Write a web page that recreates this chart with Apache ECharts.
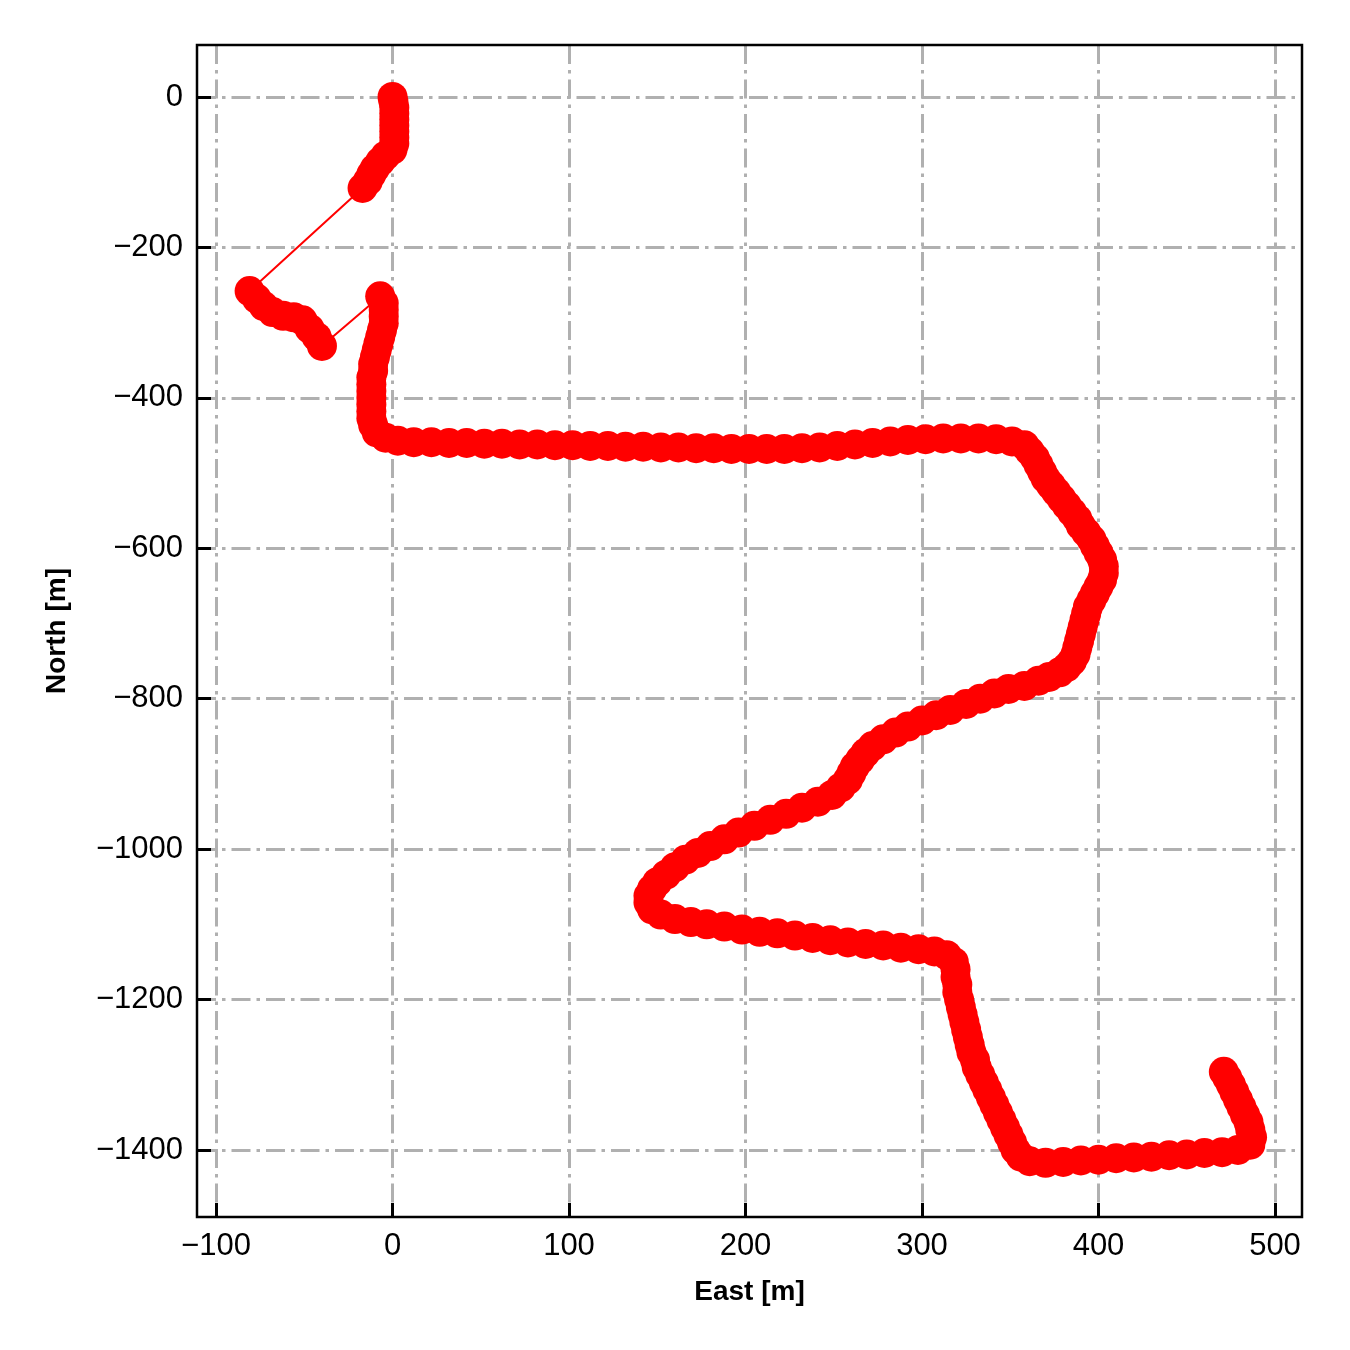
<!DOCTYPE html>
<html><head><meta charset="utf-8">
<script src="https://cdn.jsdelivr.net/npm/echarts@6/dist/echarts.min.js"></script>
<style>html,body{margin:0;padding:0;background:#fff}#c{width:1350px;height:1350px}</style>
</head><body><div id="c"></div>
<script>
// Trajectory (East / North in metres)
const east = [
  0, 0.5, 1, 1, 1, 1, 1, 1, 1, 0, -4, -7, -10, -12, -14, -17,
  -81, -77, -73, -68, -62, -56, -51, -47, -43, -40,
  -7, -5, -5, -5, -5, -6, -7, -8, -9, -10, -11, -11, -12, -12, -12, -12, -12, -12, -12, -11, -9, -4, 3, 12,
  22, 32, 42, 52, 62, 72, 82, 92, 102, 112, 122, 132, 142, 152, 162, 172, 182, 192, 202, 212, 222, 232, 242, 252, 262, 272, 282, 292, 302, 312, 322, 332, 342, 351,
  358, 361, 364, 366, 368, 370, 373, 376, 379, 382, 385, 388, 390, 393, 396, 398, 400, 402, 403, 403, 402, 400, 398, 396, 394, 393, 392, 391, 390, 389, 388, 387, 385, 382,
  378, 372, 366, 358, 349, 341, 333, 325, 316, 308, 300, 292, 285, 278, 272, 268, 265, 262, 260, 258, 254, 249, 241, 232, 223, 214, 205, 196, 188, 180, 173, 166, 160, 155, 150, 147, 145, 145, 147,
  152, 160, 169, 178, 188, 198, 208, 218, 228, 238, 248, 258, 268, 278, 288, 298, 307, 314, 318,
  319, 319, 320, 320, 321, 322, 323, 324, 325, 326, 327, 328, 330, 331, 333, 335, 337, 339, 341, 343, 345, 347, 349, 351, 353, 356, 361,
  370, 380, 390, 400, 410, 420, 430, 440, 450, 460, 470, 479, 486,
  487, 486, 485, 483, 481, 479, 477, 475, 473, 471
];
const north = [
  0, -6, -14, -22, -30, -38, -46, -54, -62, -70, -78, -86, -95, -103, -112, -121,
  -258, -268, -278, -286, -291, -293, -297, -308, -319, -331,
  -265, -274, -283, -292, -301, -310, -319, -328, -337, -346, -355, -364, -373, -382, -391, -400, -409, -418, -427, -436, -446, -453, -457, -459,
  -459, -460, -460, -461, -461, -462, -462, -463, -463, -464, -464, -465, -465, -466, -466, -467, -467, -468, -468, -468, -468, -467, -466, -464, -462, -460, -458, -456, -455, -454, -454, -454, -455, -458,
  -463, -471, -480, -489, -498, -507, -516, -525, -534, -543, -552, -561, -570, -579, -588, -597, -606, -615, -624, -633, -642, -651, -660, -669, -678, -687, -696, -705, -714, -723, -732, -741, -750, -758,
  -765, -771, -776, -783, -787, -793, -800, -807, -815, -822, -829, -837, -845, -854, -863, -872, -881, -890, -899, -908, -918, -928, -937, -945, -953, -961, -969, -978, -987, -996, -1005, -1014, -1024, -1034, -1044, -1053, -1062, -1071, -1080,
  -1087, -1093, -1097, -1100, -1103, -1107, -1110, -1112, -1115, -1118, -1121, -1124, -1126, -1128, -1131, -1133, -1136, -1141, -1150,
  -1160, -1170, -1180, -1190, -1200, -1210, -1220, -1230, -1240, -1250, -1260, -1270, -1280, -1290, -1300, -1310, -1320, -1330, -1340, -1350, -1360, -1370, -1380, -1390, -1400, -1409, -1415,
  -1417, -1416, -1414, -1413, -1411, -1410, -1409, -1407, -1406, -1404, -1403, -1400, -1393,
  -1383, -1373, -1363, -1353, -1343, -1333, -1323, -1313, -1304, -1296
];
const xTicks = [-100, 0, 100, 200, 300, 400, 500];
const yTicks = [0, -200, -400, -600, -800, -1000, -1200, -1400];
const xLimits = [-110.8, 515.3];
const yLimits = [-1489.1, 69.1];

const FONT = '"Liberation Sans", Arial, Helvetica, sans-serif';
const fmt = v => String(v).replace('-', '\u2212');
const tickStyle = {show: true, inside: true, length: 14, lineStyle: {color: '#000', width: 3}};
const gridLine = {show: true, lineStyle: {color: '#b0b0b0', width: 3, type: [19, 6, 3.5, 6]}};
const labelStyle = {show: true, color: '#000', fontSize: 31, fontFamily: FONT, margin: 14, formatter: fmt, showMinLabel: true, showMaxLabel: true};

const chart = echarts.init(document.getElementById('c'), null, {renderer: 'canvas'});
chart.setOption({
  animation: false,
  backgroundColor: '#fff',
  grid: [
    {left: 197, top: 45, width: 1105, height: 1172, show: true, borderColor: '#000', borderWidth: 2.5, backgroundColor: 'transparent', z: 5},
    {left: 216, top: 45, width: 1059, height: 1172},
    {left: 197, top: 97, width: 1105, height: 1053}
  ],
  xAxis: [
    {gridIndex: 0, type: 'value', min: xLimits[0], max: xLimits[1],
     name: 'East [m]', nameLocation: 'middle', nameGap: 61,
     nameTextStyle: {fontWeight: 'bold', fontSize: 28, color: '#000', fontFamily: FONT},
     axisLine: {show: false}, axisTick: {show: false}, axisLabel: {show: false}, splitLine: {show: false}},
    {gridIndex: 1, type: 'value', min: xTicks[0], max: xTicks[xTicks.length - 1], interval: xTicks[1] - xTicks[0],
     axisLine: {show: false}, axisTick: tickStyle, axisLabel: labelStyle, splitLine: gridLine},
    {gridIndex: 2, type: 'value', show: false, min: 0, max: 1}
  ],
  yAxis: [
    {gridIndex: 0, type: 'value', min: yLimits[0], max: yLimits[1],
     name: 'North [m]', nameLocation: 'middle', nameGap: 126, nameRotate: 90,
     nameTextStyle: {fontWeight: 'bold', fontSize: 28, color: '#000', fontFamily: FONT},
     axisLine: {show: false}, axisTick: {show: false}, axisLabel: {show: false}, splitLine: {show: false}},
    {gridIndex: 1, type: 'value', show: false, min: 0, max: 1},
    {gridIndex: 2, type: 'value', min: yTicks[yTicks.length - 1], max: yTicks[0], interval: yTicks[0] - yTicks[1],
     axisLine: {show: false}, axisTick: tickStyle, axisLabel: labelStyle, splitLine: gridLine}
  ],
  series: [{
    type: 'line', xAxisIndex: 0, yAxisIndex: 0,
    data: east.map((e, i) => [e, north[i]]),
    symbol: 'circle', symbolSize: 30, showSymbol: true, showAllSymbol: true,
    itemStyle: {color: '#ff0000', borderWidth: 0},
    lineStyle: {color: '#ff0000', width: 2},
    emphasis: {disabled: true},
    z: 3
  }]
});
</script></body></html>
